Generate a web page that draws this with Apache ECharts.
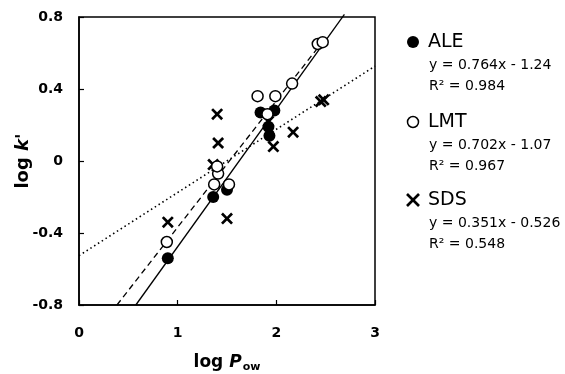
<!DOCTYPE html>
<html>
<head>
<meta charset="utf-8">
<script src="https://cdn.jsdelivr.net/npm/echarts@6/dist/echarts.min.js"></script>
<style>html,body{margin:0;padding:0;background:#fff}#c{width:565px;height:374px}</style>
</head>
<body>
<div id="c"></div>
<script>
// ---- data ----
var seriesNames = ['ALE', 'LMT', 'SDS'];
var aleX = [0.90, 1.36, 1.50, 1.84, 1.92, 1.93, 1.98];
var aleY = [-0.54, -0.20, -0.16, 0.27, 0.19, 0.14, 0.28];
var lmtX = [0.89, 1.37, 1.52, 1.41, 1.40, 1.81, 1.99, 1.91, 2.16, 2.42, 2.47];
var lmtY = [-0.45, -0.13, -0.13, -0.07, -0.03, 0.36, 0.36, 0.26, 0.43, 0.65, 0.66];
var sdsX = [0.90, 1.36, 1.40, 1.41, 1.50, 1.92, 1.97, 2.17, 2.45, 2.48];
var sdsY = [-0.34, -0.02, 0.26, 0.10, -0.32, 0.22, 0.08, 0.16, 0.33, 0.34];
var slopes = [0.764, 0.702, 0.351];
var intercepts = [-1.24, -1.07, -0.526];
var r2 = ['0.984', '0.967', '0.548'];
var fitEnd = [2.69, 2.46, 3];
var xTicks = [0, 1, 2, 3];
var yTicks = [-0.8, -0.4, 0, 0.4, 0.8];

var FONT = 'DejaVu Sans';
var xMin = 0, xMax = 3, yMin = -0.8, yMax = 0.8;

function pairs(xs, ys) { return xs.map(function (x, i) { return [x, ys[i]]; }); }
function fitLine(i) {
  var m = slopes[i], b = intercepts[i];
  var x0 = Math.max(xMin, (yMin - b) / m);
  return [[x0, m * x0 + b], [fitEnd[i], m * fitEnd[i] + b]];
}
var xPath = 'path://M0,1.6L1.6,0L5,3.4L8.4,0L10,1.6L6.6,5L10,8.4L8.4,10L5,6.6L1.6,10L0,8.4L3.4,5Z';

var chart = echarts.init(document.getElementById('c'));
var fitStyles = [
  { type: 'solid', width: 1.3 },
  { type: [6, 4], width: 1.3 },
  { type: [1.5, 3], width: 1.6 }
];
var series = [];
[0, 1, 2].forEach(function (i) {
  series.push({
    type: 'line', data: fitLine(i), symbol: 'none', silent: true, clip: false,
    lineStyle: { color: '#000', width: fitStyles[i].width, type: fitStyles[i].type }, z: 1
  });
});
series.push({ name: 'SDS', type: 'scatter', data: pairs(sdsX, sdsY), symbol: xPath, symbolSize: 12,
  itemStyle: { color: '#000', opacity: 1 }, z: 3 });
series.push({ name: 'ALE', type: 'scatter', data: pairs(aleX, aleY), symbol: 'circle', symbolSize: 12,
  itemStyle: { color: '#000', opacity: 1 }, z: 4 });
series.push({ name: 'LMT', type: 'scatter', data: pairs(lmtX, lmtY), symbol: 'circle', symbolSize: 11,
  itemStyle: { color: '#fff', borderColor: '#000', borderWidth: 1.5, opacity: 1 }, z: 5 });

// legend drawn as graphic
var legTop = [42, 122, 200];
var graphics = [];
legTop.forEach(function (y, i) {
  if (i === 0) graphics.push({ type: 'circle', shape: { cx: 413, cy: y, r: 6 }, style: { fill: '#000' } });
  if (i === 1) graphics.push({ type: 'circle', shape: { cx: 413, cy: y, r: 5.5 }, style: { fill: '#fff', stroke: '#000', lineWidth: 1.5 } });
  if (i === 2) {
    graphics.push({ type: 'line', shape: { x1: 407, y1: y - 6, x2: 419, y2: y + 6 }, style: { stroke: '#000', lineWidth: 2.6 } });
    graphics.push({ type: 'line', shape: { x1: 419, y1: y - 6, x2: 407, y2: y + 6 }, style: { stroke: '#000', lineWidth: 2.6 } });
  }
  graphics.push({ type: 'text', x: 428, y: y, style: { text: seriesNames[i], font: '19px "' + FONT + '"', fill: '#000', verticalAlign: 'middle' } });
  var b = intercepts[i];
  var eq = 'y = ' + slopes[i] + 'x ' + (b < 0 ? '- ' : '+ ') + Math.abs(b);
  graphics.push({ type: 'text', x: 429, y: y + 23, style: { text: eq, font: '14px "' + FONT + '"', fill: '#000', verticalAlign: 'middle' } });
  graphics.push({ type: 'text', x: 429, y: y + 44, style: { text: 'R\u00B2 = ' + r2[i], font: '14px "' + FONT + '"', fill: '#000', verticalAlign: 'middle' } });
});

chart.setOption({
  animation: false,
  backgroundColor: '#fff',
  grid: { left: 79, right: 190, top: 17, bottom: 69, containLabel: false, outerBoundsMode: 'none',
    show: true, borderColor: '#000', borderWidth: 1.5, backgroundColor: 'transparent' },
  xAxis: {
    type: 'value', min: xMin, max: xMax, interval: 1,
    axisLine: { show: true, onZero: false, lineStyle: { color: '#000', width: 1.5 } },
    axisTick: { show: true, inside: true, length: 5, lineStyle: { color: '#000', width: 1.2 } },
    splitLine: { show: false },
    axisLabel: { color: '#000', fontFamily: FONT, fontSize: 14, fontWeight: 'bold', margin: 21,
      formatter: function (v) { return String(xTicks[xTicks.indexOf(v)]); } },
    name: '{a|log }{b|P}{c|ow}', nameLocation: 'middle', nameGap: 48, nameMoveOverlap: false,
    nameTextStyle: { color: '#000', fontFamily: FONT, fontSize: 17,
      rich: { a: { fontFamily: FONT, fontSize: 17, fontWeight: 'bold', color: '#000' },
              b: { fontFamily: FONT, fontSize: 17, fontWeight: 'bold', fontStyle: 'italic', color: '#000' },
              c: { fontFamily: FONT, fontSize: 11, fontWeight: 'bold', color: '#000', padding: [9, 0, 0, 1] } } }
  },
  yAxis: {
    type: 'value', min: yMin, max: yMax, interval: 0.4,
    axisLine: { show: true, onZero: false, lineStyle: { color: '#000', width: 1.5 } },
    axisTick: { show: true, inside: true, length: 5, lineStyle: { color: '#000', width: 1.2 } },
    splitLine: { show: false },
    axisLabel: { color: '#000', fontFamily: FONT, fontSize: 14, fontWeight: 'bold', margin: 16,
      formatter: function (v) { var r = Math.round(v * 10) / 10; return String(yTicks[yTicks.indexOf(r)]); } },
    name: '{a|log }{b|k\'}', nameLocation: 'middle', nameGap: 47, nameRotate: 90, nameMoveOverlap: false,
    nameTextStyle: { color: '#000', fontFamily: FONT, fontSize: 18,
      rich: { a: { fontFamily: FONT, fontSize: 18, fontWeight: 'bold', color: '#000' },
              b: { fontFamily: FONT, fontSize: 18, fontWeight: 'bold', fontStyle: 'italic', color: '#000' } } }
  },
  graphic: graphics,
  series: series
});
</script>
</body>
</html>
